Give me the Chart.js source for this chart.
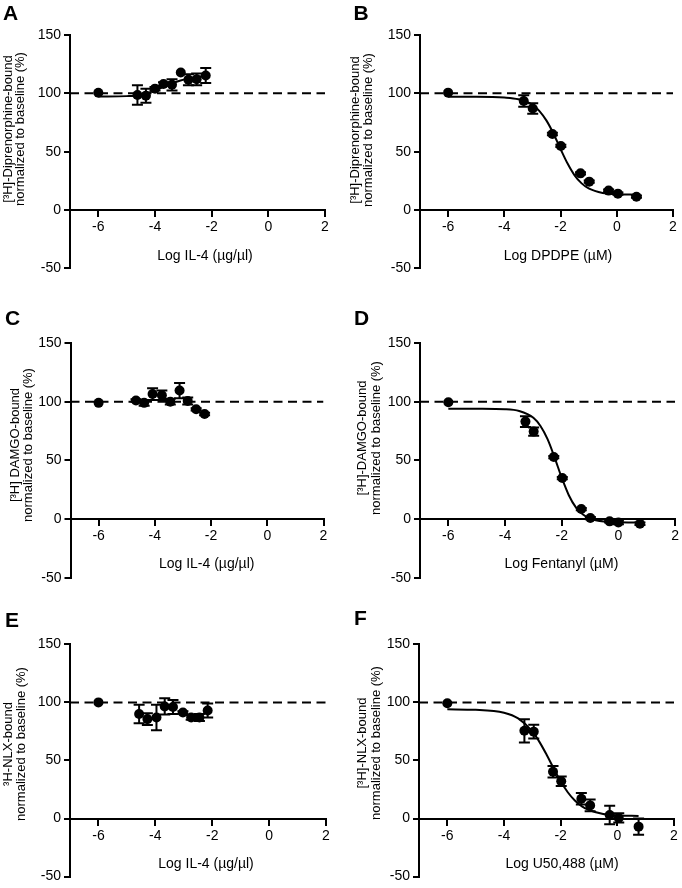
<!DOCTYPE html>
<html>
<head>
<meta charset="utf-8">
<script src="https://cdn.jsdelivr.net/npm/chart.js@4.4.0/dist/chart.umd.min.js"></script>
<style>
    body { margin: 0; background: #fff; }
    .panel { position: absolute; }
    canvas { display: block; }
</style>
</head>
<body>
<div class="panel" style="left:0px;top:0px"><canvas id="panelA" width="341" height="290"></canvas></div>
<div class="panel" style="left:341px;top:0px"><canvas id="panelB" width="341" height="290"></canvas></div>
<div class="panel" style="left:0px;top:290px"><canvas id="panelC" width="341" height="300"></canvas></div>
<div class="panel" style="left:341px;top:290px"><canvas id="panelD" width="341" height="300"></canvas></div>
<div class="panel" style="left:0px;top:590px"><canvas id="panelE" width="341" height="298"></canvas></div>
<div class="panel" style="left:341px;top:590px"><canvas id="panelF" width="341" height="298"></canvas></div>

<script>
// ejes comunes
const ticksX = [-6, -4, -2, 0, 2];
const ticksY = [-50, 0, 50, 100, 150];
const baseline = 100;

// A: IL-4 sobre [3H]-diprenorfina
const xA = [-6, -4.62, -4.32, -4.0, -3.7, -3.4, -3.09, -2.82, -2.53, -2.21];
const yA = [100.5, 98.6, 98, 104, 108, 107.3, 117.8, 111.6, 112, 115.3];
const errA = [0, 8.3, 6, 1.5, 1.5, 4.8, 0, 4.7, 5, 6.4];
const curvaXA = [-6, -5, -4.6, -4.3, -4, -3.7, -3.4, -3.1, -2.8, -2.5, -2.2];
const curvaYA = [97.3, 97.6, 98.2, 100, 102.5, 105.5, 108.5, 111, 112.8, 114, 114.8];

// B: DPDPE
const xB = [-6, -3.31, -2.99, -2.29, -1.99, -1.29, -0.98, -0.29, 0.04, 0.7];
const yB = [100.6, 93.4, 87, 65.1, 54.9, 31.4, 24.3, 16.6, 14, 11.4];
const errB = [0, 5, 4.5, 1, 1, 1, 1, 1, 1, 1];
const curvaXB = [-6, -5, -4, -3.5, -3, -2.75, -2.5, -2.25, -2, -1.75, -1.5, -1.25, -1, -0.5, 0, 0.7];
const curvaYB = [97, 97, 96.4, 94.9, 90.1, 84.8, 76.6, 65.4, 52.3, 39.8, 29.7, 22.8, 18.5, 14.6, 13.5, 13.1];

// C: IL-4 sobre [3H] DAMGO
const xC = [-6, -4.67, -4.38, -4.08, -3.75, -3.45, -3.12, -2.83, -2.53, -2.23];
const yC = [99, 101, 99, 106.5, 105.5, 100, 109.5, 100.5, 93.5, 89.5];
const errC = [0, 1, 2.5, 5, 4, 2.5, 6.5, 3, 1, 1];

// D: Fentanilo
const xD = [-6, -3.28, -2.99, -2.28, -1.98, -1.31, -0.99, -0.31, 0.0, 0.76];
const yD = [99.5, 83, 74.5, 52.8, 34.9, 8.5, 0.8, -2, -3, -4];
const errD = [0, 4.5, 3.5, 1, 1, 1, 1, 1, 1.5, 1];
const curvaXD = [-6, -5, -4, -3.5, -3, -2.75, -2.5, -2.25, -2, -1.75, -1.5, -1.25, -1, -0.5, 0, 0.75];
const curvaYD = [94, 93.9, 93.5, 92, 86.3, 79.3, 68.1, 52.4, 35.2, 20.3, 9.9, 3.8, 0.4, -2.2, -2.8, -3];

// E: IL-4 sobre 3H-NLX
const xE = [-6, -4.57, -4.28, -3.96, -3.67, -3.38, -3.03, -2.74, -2.45, -2.16];
const yE = [100, 90, 85.6, 87, 96.5, 96, 91.3, 87, 87, 93];
const errE = [0, 8, 5, 11, 7, 6, 1, 2, 3, 6];

// F: U50,488
const xF = [-6, -3.28, -2.95, -2.27, -1.98, -1.27, -0.96, -0.27, 0.05, 0.75];
const yF = [99.3, 75.5, 74.8, 40.3, 32.1, 17, 11.3, 3, 0.5, -7];
const errF = [0, 10, 6, 5, 4, 5, 5, 8, 4, 7];
const curvaXF = [-6, -5, -4, -3.5, -3, -2.75, -2.5, -2.25, -2, -1.75, -1.5, -1.25, -1, -0.5, 0, 0.75];
const curvaYF = [94, 93.6, 91.1, 86.2, 75, 66, 55.1, 43.3, 32, 22.6, 15.5, 10.5, 7.3, 3.9, 2.7, 2.2];

const fuente = '"Liberation Sans", Arial, Helvetica, sans-serif';
Chart.defaults.font.family = fuente;
Chart.defaults.color = "#000";

function puntos(xs, ys) {
    return xs.map((x, i) => ({ x: x, y: ys[i] }));
}

// barras de error (media ± error)
const barrasError = {
    id: "barrasError",
    afterDatasetsDraw(chart) {
        const ctx = chart.ctx;
        const ejeX = chart.scales.x;
        const ejeY = chart.scales.y;
        chart.data.datasets.forEach(ds => {
            if (!ds.errores) return;
            ctx.save();
            ctx.strokeStyle = "#000";
            ctx.lineWidth = 2;
            ds.data.forEach((p, j) => {
                const e = ds.errores[j];
                if (!e) return;
                const px = ejeX.getPixelForValue(p.x);
                const arriba = ejeY.getPixelForValue(p.y + e);
                const abajo = ejeY.getPixelForValue(p.y - e);
                ctx.beginPath();
                ctx.moveTo(px, arriba); ctx.lineTo(px, abajo);
                ctx.moveTo(px - 5.5, arriba); ctx.lineTo(px + 5.5, arriba);
                ctx.moveTo(px - 5.5, abajo); ctx.lineTo(px + 5.5, abajo);
                ctx.stroke();
            });
            ctx.restore();
        });
    }
};

// letra del panel y titulos de los ejes
const textoPanel = {
    id: "textoPanel",
    afterDraw(chart, args, opts) {
        const ctx = chart.ctx;
        ctx.save();
        ctx.fillStyle = "#000";
        ctx.textBaseline = "alphabetic";

        ctx.font = "bold 21px " + fuente;
        ctx.textAlign = "left";
        ctx.fillText(opts.letra, opts.posLetra[0], opts.posLetra[1]);

        ctx.font = "14px " + fuente;
        ctx.textAlign = "center";
        ctx.fillText(opts.tituloX, opts.posTituloX[0], opts.posTituloX[1]);

        ctx.font = "13px " + fuente;
        ctx.textBaseline = "middle";
        opts.tituloY.forEach((linea, i) => {
            ctx.save();
            ctx.translate(opts.posTituloY[i], opts.posTituloY[2]);
            ctx.rotate(-Math.PI / 2);
            ctx.fillText(linea, 0, 0);
            ctx.restore();
        });
        ctx.restore();
    }
};

function crearPanel(id, cfg) {
    const canva = document.getElementById(id);
    const ancho = canva.width;
    const alto = canva.height;

    const datasets = [];
    datasets.push({
        data: [{ x: -7, y: baseline }, { x: 2, y: baseline }],
        showLine: true,
        borderColor: "#000",
        borderWidth: 2,
        borderDash: [9, 5.5],
        pointRadius: 0,
        order: 3
    });
    if (cfg.curvaX) {
        datasets.push({
            data: puntos(cfg.curvaX, cfg.curvaY),
            showLine: true,
            borderColor: "#000",
            borderWidth: 2,
            pointRadius: 0,
            cubicInterpolationMode: "monotone",
            order: 2
        });
    }
    datasets.push({
        data: puntos(cfg.x, cfg.y),
        errores: cfg.err,
        backgroundColor: "#000",
        borderWidth: 0,
        pointRadius: 5,
        order: 1
    });

    const ejeComun = {
        type: "linear",
        grid: { drawOnChartArea: false, color: "#000", lineWidth: 2, tickLength: 6 },
        border: { color: "#000", width: 2 },
        ticks: { color: "#000", font: { size: 14 }, padding: 3, maxRotation: 0 }
    };

    new Chart(canva, {
        type: "scatter",
        data: { datasets: datasets },
        options: {
            responsive: false,
            animation: false,
            layout: {
                padding: {
                    left: 0,
                    top: cfg.area[1],
                    right: ancho - cfg.area[2],
                    bottom: alto - cfg.area[3]
                }
            },
            plugins: {
                legend: { display: false },
                tooltip: { enabled: false },
                textoPanel: {
                    letra: cfg.letra,
                    posLetra: cfg.posLetra,
                    tituloX: cfg.tituloX,
                    posTituloX: cfg.posTituloX,
                    tituloY: cfg.tituloY,
                    posTituloY: cfg.posTituloY
                }
            },
            scales: {
                x: Object.assign({}, ejeComun, {
                    min: -7,
                    max: 2,
                    position: { y: 0 },
                    afterBuildTicks: eje => { eje.ticks = ticksX.map(v => ({ value: v })); }
                }),
                y: Object.assign({}, ejeComun, {
                    min: -50,
                    max: 150,
                    position: "left",
                    afterBuildTicks: eje => { eje.ticks = ticksY.map(v => ({ value: v })); },
                    afterFit: eje => { eje.width = cfg.area[0]; }
                })
            }
        },
        plugins: [barrasError, textoPanel]
    });
}

const tituloNorm = "normalized to baseline (%)";

crearPanel("panelA", {
    x: xA, y: yA, err: errA, curvaX: curvaXA, curvaY: curvaYA,
    area: [70, 35, 325, 268.3],
    letra: "A", posLetra: [3, 20],
    tituloX: "Log IL-4 (µg/µl)", posTituloX: [205, 259.5],
    tituloY: ["[³H]-Diprenorphine-bound", tituloNorm], posTituloY: [8, 20.5, 129]
});

crearPanel("panelB", {
    x: xB, y: yB, err: errB, curvaX: curvaXB, curvaY: curvaYB,
    area: [79, 35, 332, 268.3],
    letra: "B", posLetra: [12.5, 20],
    tituloX: "Log DPDPE (µM)", posTituloX: [217, 260],
    tituloY: ["[³H]-Diprenorphine-bound", tituloNorm], posTituloY: [14, 27.5, 130]
});

crearPanel("panelC", {
    x: xC, y: yC, err: errC,
    area: [70.5, 53, 323.5, 287.7],
    letra: "C", posLetra: [5, 35],
    tituloX: "Log IL-4 (µg/µl)", posTituloX: [206.7, 278.3],
    tituloY: ["[³H] DAMGO-bound", tituloNorm], posTituloY: [15, 28.5, 155]
});

crearPanel("panelD", {
    x: xD, y: yD, err: errD, curvaX: curvaXD, curvaY: curvaYD,
    area: [79, 53, 337, 287.7],
    letra: "D", posLetra: [13, 35],
    tituloX: "Log Fentanyl (µM)", posTituloX: [220.5, 278.3],
    tituloY: ["[³H]-DAMGO-bound", tituloNorm], posTituloY: [21, 35, 148]
});

crearPanel("panelE", {
    x: xE, y: yE, err: errE,
    area: [70, 54.3, 326, 289.5],
    letra: "E", posLetra: [5, 37],
    tituloX: "Log IL-4 (µg/µl)", posTituloX: [206, 278.3],
    tituloY: ["³H-NLX-bound", tituloNorm], posTituloY: [8.5, 21, 154]
});

crearPanel("panelF", {
    x: xF, y: yF, err: errF, curvaX: curvaXF, curvaY: curvaYF,
    area: [78, 54.3, 333, 288.7],
    letra: "F", posLetra: [13, 35],
    tituloX: "Log U50,488 (µM)", posTituloX: [221, 278.3],
    tituloY: ["[³H]-NLX-bound", tituloNorm], posTituloY: [21, 35, 153]
});
</script>
</body>
</html>
